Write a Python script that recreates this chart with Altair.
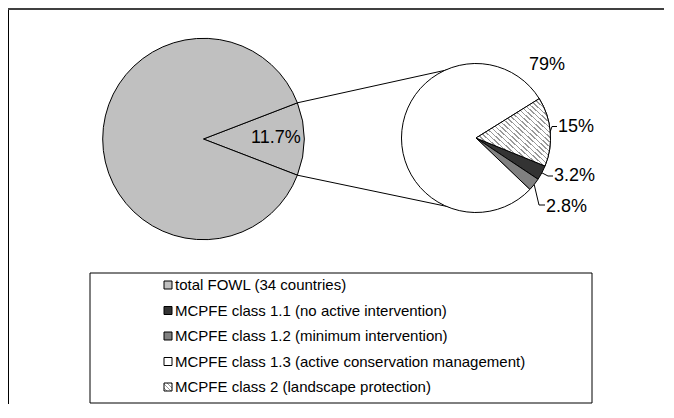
import altair as alt
import pandas as pd
import numpy as np

# ---------------- data ----------------
total_name = "total FOWL (34 countries)"
fowl_share = 11.7
fowl_label = "11.7%"

# slices of the secondary pie, clockwise
class_keys = ["c2", "c11", "c12", "c13"]
class_pct = [15, 3.2, 2.8, 79]
class_labels = ["15%", "3.2%", "2.8%", "79%"]

legend_names = [
    "total FOWL (34 countries)",
    "MCPFE class 1.1 (no active intervention)",
    "MCPFE class 1.2 (minimum intervention)",
    "MCPFE class 1.3 (active conservation management)",
    "MCPFE class 2 (landscape protection)",
]
legend_keys = ["total", "c11", "c12", "c13", "c2"]

# ---------------- styles / layout ----------------
fills = {"total": "#C0C0C0", "c11": "#333333", "c12": "#808080", "c13": "#FFFFFF", "c2": "#FFFFFF"}
FONT = "Liberation Sans"
W, H = 656, 396
X0, Y0 = 8, 8
BIG_C = (203.4, 139.0)
BIG_R = 100.7
SMALL_C = (476.0, 138.0)
SMALL_R = 74.5
SMALL_START = 58.1  # degrees clockwise from 12 o'clock

label_pos = {"c2": (558, 127), "c11": (554, 176), "c12": (546, 207), "c13": (529, 65)}
leader_knee = {"c2": [(552, 126.5), (557, 126.5)], "c11": [(548, 176), (553, 176)],
               "c12": [(539, 205), (545, 205)]}
fowl_label_pos = (251, 138)
LEG_BOX = (90, 273, 592, 403)
LEG_ROW0, LEG_STEP = 285, 25.5
LEG_SW_X, LEG_TX_X = 168, 175

xs = alt.Scale(domain=[X0, X0 + W], nice=False, zero=False)
ys = alt.Scale(domain=[Y0, Y0 + H], nice=False, zero=False, reverse=True)


def pt(c, r, deg):
    a = np.radians(deg)
    return c[0] + r * np.sin(a), c[1] - r * np.cos(a)


def hatch(n, frac=0.3, col="#9a9a9a"):
    stops = []
    for i in range(n):
        stops += [
            alt.GradientStop(offset=i / n, color="#FFFFFF"),
            alt.GradientStop(offset=(i + 1 - frac) / n, color="#FFFFFF"),
            alt.GradientStop(offset=(i + 1 - frac) / n, color=col),
            alt.GradientStop(offset=(i + 1) / n, color=col),
        ]
    return alt.LinearGradient(gradient="linear", stops=stops, x1=0, y1=1, x2=1, y2=0)


X = lambda f: alt.X(f, type="quantitative", scale=xs, axis=None)
Y = lambda f: alt.Y(f, type="quantitative", scale=ys, axis=None)

# ---------------- big pie ----------------
hw = fowl_share / 100 * 360 / 2
big_df = pd.DataFrame({
    "cx": [BIG_C[0]] * 2, "cy": [BIG_C[1]] * 2,
    "t0": np.radians([90 - hw, 90 + hw]), "t1": np.radians([90 + hw, 450 - hw]),
    "fill": [fills["total"]] * 2,
})
big = alt.Chart(big_df).mark_arc(radius=BIG_R, stroke="black", strokeWidth=1).encode(
    x=X("cx"), y=Y("cy"),
    theta=alt.Theta("t0:Q", scale=None), theta2="t1:Q",
    fill=alt.Fill("fill:N", scale=None),
)

# ---------------- small pie ----------------
cum = np.concatenate([[0], np.cumsum(class_pct)]) / sum(class_pct) * 360 + SMALL_START
small_df = pd.DataFrame({
    "key": class_keys, "cx": SMALL_C[0], "cy": SMALL_C[1],
    "t0": np.radians(cum[:-1]), "t1": np.radians(cum[1:]),
    "fill": [fills[k] for k in class_keys], "mid": (cum[:-1] + cum[1:]) / 2,
})
small = alt.Chart(small_df).mark_arc(radius=SMALL_R, stroke="black", strokeWidth=1).encode(
    x=X("cx"), y=Y("cy"),
    theta=alt.Theta("t0:Q", scale=None), theta2="t1:Q",
    fill=alt.Fill("fill:N", scale=None),
)
hatched = alt.Chart(small_df[small_df.key == "c2"]).mark_arc(
    radius=SMALL_R, stroke="black", strokeWidth=1, fill=hatch(28)
).encode(x=X("cx"), y=Y("cy"), theta=alt.Theta("t0:Q", scale=None), theta2="t1:Q")

# ---------------- connectors ----------------
p_top = pt(BIG_C, BIG_R, 90 - hw)
p_bot = pt(BIG_C, BIG_R, 90 + hw)
s_top = pt(SMALL_C, SMALL_R, 0)
s_bot = pt(SMALL_C, SMALL_R, 180)
con_df = pd.DataFrame({"x": [p_top[0], p_bot[0]], "y": [p_top[1], p_bot[1]],
                       "x2": [s_top[0], s_bot[0]], "y2": [s_top[1], s_bot[1]]})
connectors = alt.Chart(con_df).mark_rule(color="black", strokeWidth=1).encode(
    x=X("x"), y=Y("y"), x2="x2:Q", y2="y2:Q")

# ---------------- labels & leaders ----------------
lab_df = pd.DataFrame({
    "x": [label_pos[k][0] for k in class_keys] + [fowl_label_pos[0]],
    "y": [label_pos[k][1] for k in class_keys] + [fowl_label_pos[1]],
    "t": class_labels + [fowl_label],
})
labels = alt.Chart(lab_df).mark_text(align="left", baseline="middle", font=FONT, fontSize=18,
                                     color="black").encode(x=X("x"), y=Y("y"), text="t:N")

rows = []
for _, r in small_df.iterrows():
    if r.key in leader_knee:
        sx, sy = pt(SMALL_C, SMALL_R, r.mid)
        pts = [(sx, sy)] + leader_knee[r.key]
        for i, (a, b) in enumerate(pts):
            rows.append({"seg": r.key, "k": i, "x": a, "y": b})
leaders = alt.Chart(pd.DataFrame(rows)).mark_line(color="black", strokeWidth=1).encode(
    x=X("x"), y=Y("y"), detail="seg:N", order="k:Q")

# ---------------- legend ----------------
box = alt.Chart(pd.DataFrame({"x": [LEG_BOX[0]], "y": [LEG_BOX[1]], "x2": [LEG_BOX[2]], "y2": [LEG_BOX[3]]})
                ).mark_rect(fill="white", stroke="black", strokeWidth=1).encode(
    x=X("x"), y=Y("y"), x2="x2:Q", y2="y2:Q")
leg_df = pd.DataFrame({
    "name": legend_names, "key": legend_keys,
    "x": LEG_SW_X, "tx": LEG_TX_X,
    "y": [LEG_ROW0 + i * LEG_STEP for i in range(len(legend_names))],
    "fill": [fills[k] for k in legend_keys],
})
sw = alt.Chart(leg_df[leg_df.key != "c2"]).mark_square(size=64, stroke="black", strokeWidth=1,
                                                     opacity=1).encode(
    x=X("x"), y=Y("y"), fill=alt.Fill("fill:N", scale=None))
sw_h = alt.Chart(leg_df[leg_df.key == "c2"]).mark_square(size=64, stroke="black", strokeWidth=1,
                                                       opacity=1, fill=hatch(4)).encode(
    x=X("x"), y=Y("y"))
leg_txt = alt.Chart(leg_df).mark_text(align="left", baseline="middle", font=FONT, fontSize=15,
                                      color="black").encode(x=X("tx"), y=Y("y"), text="name:N")

# ---------------- outer frame (its right and bottom sides lie past the page) ----------------
frame_left = alt.Chart(pd.DataFrame({"a": [0]})).mark_rule(color="black", strokeWidth=1).encode(
    x=alt.value(0.5), y=alt.value(0), y2=alt.value(H))
frame_top = alt.Chart(pd.DataFrame({"a": [0]})).mark_rule(color="#404040", strokeWidth=2).encode(
    x=alt.value(0), x2=alt.value(W), y=alt.value(1))

chart = alt.layer(
    frame_left, frame_top, big, connectors, small, hatched, leaders, labels,
    box, sw, sw_h, leg_txt
).properties(width=W, height=H, padding=0, autosize=alt.AutoSizeParams(type="none"),
             background="white").configure_view(strokeWidth=0, stroke="transparent")

chart.save("out.html", embed_options={"renderer": "svg", "actions": False})
